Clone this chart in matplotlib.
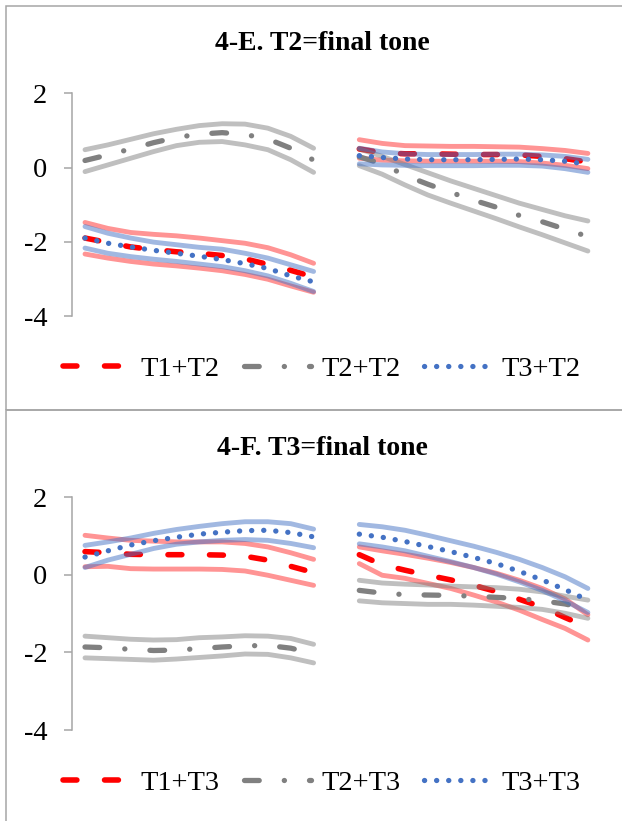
import numpy as np
import matplotlib
matplotlib.use("Agg")
import matplotlib.pyplot as plt
from matplotlib.patches import Rectangle

plt.rcParams['font.family'] = ['Liberation Serif', 'DejaVu Serif']
plt.rcParams['lines.scale_dashes'] = False

# ---------------- data (11 normalized time points per syllable, syllable 1 then syllable 2) -------------
E_title = '4-E. T2=final tone'
F_title = '4-F. T3=final tone'
E_labels = ['T1+T2', 'T2+T2', 'T3+T2']
F_labels = ['T1+T3', 'T2+T3', 'T3+T3']
ytick_vals = [2, 0, -2, -4]
ytick_labels = ['2', '0', '-2', '-4']

# Panel E
E_T1_mean = [-1.90, -2.02, -2.14, -2.21, -2.27, -2.31, -2.37, -2.46, -2.61, -2.77, -2.95,
             0.50, 0.40, 0.37, 0.37, 0.36, 0.35, 0.35, 0.34, 0.30, 0.24, 0.15]
E_T1_up = [-1.48, -1.64, -1.75, -1.80, -1.84, -1.90, -1.97, -2.04, -2.16, -2.35, -2.58,
           0.75, 0.65, 0.59, 0.58, 0.57, 0.57, 0.56, 0.55, 0.51, 0.46, 0.38]
E_T1_lo = [-2.33, -2.44, -2.53, -2.60, -2.65, -2.71, -2.78, -2.88, -3.01, -3.19, -3.36,
           0.25, 0.20, 0.18, 0.17, 0.17, 0.17, 0.17, 0.16, 0.12, 0.06, -0.03]

E_T2_mean = [0.19, 0.34, 0.50, 0.67, 0.81, 0.90, 0.94, 0.89, 0.77, 0.52, 0.20,
             0.29, 0.10, -0.21, -0.45, -0.67, -0.88, -1.07, -1.29, -1.46, -1.66, -1.86]
E_T2_up = [0.48, 0.61, 0.76, 0.91, 1.03, 1.13, 1.18, 1.17, 1.06, 0.84, 0.52,
           0.50, 0.30, 0.08, -0.14, -0.36, -0.56, -0.76, -0.96, -1.13, -1.30, -1.44]
E_T2_lo = [-0.11, 0.07, 0.25, 0.43, 0.59, 0.68, 0.70, 0.61, 0.48, 0.21, -0.13,
           0.05, -0.18, -0.47, -0.74, -0.96, -1.17, -1.38, -1.60, -1.81, -2.03, -2.25]

E_T3_mean = [-1.90, -2.04, -2.14, -2.23, -2.31, -2.39, -2.48, -2.59, -2.72, -2.92, -3.08,
             0.32, 0.27, 0.23, 0.21, 0.21, 0.21, 0.22, 0.23, 0.21, 0.17, 0.09]
E_T3_up = [-1.59, -1.77, -1.90, -2.01, -2.08, -2.15, -2.20, -2.31, -2.44, -2.62, -2.80,
           0.52, 0.42, 0.37, 0.35, 0.35, 0.35, 0.36, 0.36, 0.34, 0.30, 0.22]
E_T3_lo = [-2.17, -2.31, -2.40, -2.47, -2.53, -2.60, -2.67, -2.78, -2.92, -3.12, -3.34,
           0.10, 0.07, 0.06, 0.05, 0.05, 0.05, 0.06, 0.06, 0.04, -0.03, -0.13]

# Panel F
F_T1_mean = [0.60, 0.57, 0.53, 0.52, 0.52, 0.52, 0.51, 0.48, 0.38, 0.22, 0.06,
             0.52, 0.26, 0.12, -0.01, -0.13, -0.27, -0.43, -0.63, -0.83, -1.10, -1.35]
F_T1_up = [1.02, 0.95, 0.89, 0.87, 0.85, 0.85, 0.85, 0.81, 0.72, 0.57, 0.40,
           0.72, 0.62, 0.53, 0.43, 0.32, 0.19, 0.04, -0.14, -0.35, -0.62, -1.03]
F_T1_lo = [0.21, 0.22, 0.16, 0.15, 0.15, 0.15, 0.14, 0.10, -0.01, -0.14, -0.27,
           0.29, -0.01, -0.09, -0.22, -0.35, -0.52, -0.70, -0.91, -1.15, -1.38, -1.68]

F_T2_mean = [-1.86, -1.88, -1.92, -1.95, -1.94, -1.90, -1.86, -1.83, -1.82, -1.89, -2.03,
             -0.40, -0.47, -0.51, -0.52, -0.53, -0.55, -0.58, -0.61, -0.67, -0.75, -0.88]
F_T2_up = [-1.58, -1.62, -1.66, -1.68, -1.67, -1.62, -1.60, -1.57, -1.58, -1.64, -1.79,
           -0.14, -0.21, -0.24, -0.26, -0.29, -0.31, -0.33, -0.37, -0.44, -0.55, -0.65]
F_T2_lo = [-2.14, -2.16, -2.18, -2.20, -2.17, -2.13, -2.09, -2.04, -2.05, -2.14, -2.27,
           -0.67, -0.72, -0.74, -0.76, -0.76, -0.78, -0.81, -0.84, -0.89, -0.99, -1.12]

F_T3_mean = [0.46, 0.62, 0.77, 0.88, 0.97, 1.05, 1.10, 1.14, 1.15, 1.09, 0.98,
             1.05, 0.97, 0.86, 0.73, 0.60, 0.45, 0.29, 0.09, -0.13, -0.38, -0.65]
F_T3_up = [0.76, 0.85, 0.95, 1.07, 1.17, 1.25, 1.32, 1.37, 1.37, 1.32, 1.18,
           1.30, 1.24, 1.15, 1.02, 0.88, 0.74, 0.58, 0.40, 0.19, -0.05, -0.35]
F_T3_lo = [0.19, 0.38, 0.53, 0.68, 0.79, 0.85, 0.89, 0.91, 0.89, 0.81, 0.70,
           0.80, 0.72, 0.62, 0.48, 0.34, 0.19, 0.02, -0.18, -0.40, -0.67, -0.97]

# ---------------- styling -------------
COLORS = ['#FF0000', '#808080', '#4472C4']
BAND_ALPHA = [0.42, 0.5, 0.5]
MEAN_STYLES = [(0, (10.0, 19.9)),
               (0, (10.6, 18.05, 0.1, 18.05)),
               (0, (0.1, 8.6))]
MEAN_LW = [4.0, 3.8, 3.8]
BAND_LW = 3.5
AX_COLOR = '#A6A6A6'
FS = 20.5

W, H = 622, 821
fig = plt.figure(figsize=(W / 100, H / 100), dpi=100)


def fx(px):
    return px / W


def fy(py):
    return 1 - py / H


X = np.array(list(range(11)) + list(range(12, 23)))
SEGS = [slice(0, 11), slice(11, 22)]


def draw_panel(ax, series, labels, title, title_y, legend_y):
    handles = []
    for k, (mean, up, lo) in enumerate(series):
        mean, up, lo = np.array(mean), np.array(up), np.array(lo)
        for j, sg in enumerate(SEGS):
            ax.plot(X[sg], up[sg], color=COLORS[k], alpha=BAND_ALPHA[k], lw=BAND_LW,
                    solid_capstyle='round', solid_joinstyle='round')
            ax.plot(X[sg], lo[sg], color=COLORS[k], alpha=BAND_ALPHA[k], lw=BAND_LW,
                    solid_capstyle='round', solid_joinstyle='round')
            ln, = ax.plot(X[sg], mean[sg], color=COLORS[k], lw=MEAN_LW[k],
                          linestyle=MEAN_STYLES[k], dash_capstyle='round',
                          dash_joinstyle='round')
            if j == 0:
                handles.append(ln)
    ax.set_xlim(-0.556, 22.5)
    ax.set_ylim(-4, 2)
    for s in ['top', 'right', 'bottom']:
        ax.spines[s].set_visible(False)
    ax.spines['left'].set_color(AX_COLOR)
    ax.spines['left'].set_linewidth(1.1)
    ax.set_xticks([])
    ax.set_yticks(ytick_vals)
    ax.set_yticklabels(ytick_labels)
    ax.tick_params(axis='y', direction='out', length=6, width=1.1, color=AX_COLOR,
                   labelsize=FS, pad=12, labelcolor='black')
    ax.patch.set_alpha(0)
    fig.text(fx(322), fy(title_y), title, ha='center', va='center',
             fontsize=20, fontweight='bold')
    fig.legend(handles, labels, loc='center', bbox_to_anchor=(fx(322), fy(legend_y)),
               ncol=3, frameon=False, fontsize=FS, handlelength=2.36,
               handletextpad=0.35, columnspacing=0.85, borderaxespad=0, borderpad=0)


axE = fig.add_axes([fx(72.3), fy(316), fx(599.3) - fx(72.3), fy(93.3) - fy(316)])
axF = fig.add_axes([fx(72.3), fy(730), fx(599.3) - fx(72.3), fy(497.3) - fy(730)])

draw_panel(axE, [(E_T1_mean, E_T1_up, E_T1_lo), (E_T2_mean, E_T2_up, E_T2_lo),
                 (E_T3_mean, E_T3_up, E_T3_lo)], E_labels, E_title, 44, 369)
draw_panel(axF, [(F_T1_mean, F_T1_up, F_T1_lo), (F_T2_mean, F_T2_up, F_T2_lo),
                 (F_T3_mean, F_T3_up, F_T3_lo)], F_labels, F_title, 448, 783)

# chart borders
fig.patches.append(Rectangle((fx(5.5), fy(410)), 1.0, fy(6.5) - fy(410),
                             transform=fig.transFigure, fill=False, ec=AX_COLOR, lw=1.1))
fig.patches.append(Rectangle((fx(5.5), -0.01), 1.0, fy(410) + 0.01,
                             transform=fig.transFigure, fill=False, ec=AX_COLOR, lw=1.1))

fig.savefig('out.png', dpi=100)
